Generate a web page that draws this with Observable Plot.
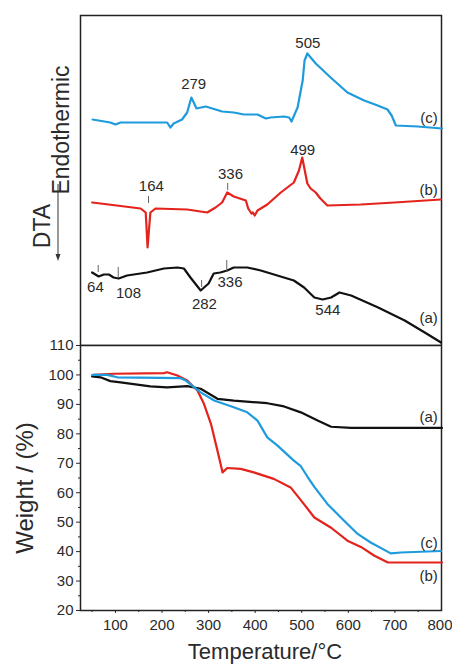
<!DOCTYPE html>
<html><head><meta charset="utf-8">
<script src="https://cdn.jsdelivr.net/npm/d3@7"></script>
<script src="https://cdn.jsdelivr.net/npm/@observablehq/plot@0.6"></script>
<style>
body{margin:0;background:#fff;font-family:"Liberation Sans",Arial,sans-serif;}
#wrap{position:relative;width:452px;height:664px;overflow:hidden;}
#topPanel,#botPanel{position:absolute;left:0;}
#topPanel{top:0}#botPanel{top:335px}
.lab{position:absolute;color:#2a2a2a;white-space:nowrap;line-height:1;}
.rot{transform:translate(-50%,-50%) rotate(-90deg);}
</style></head><body>
<div id="wrap">
  <div id="topPanel"></div>
  <div id="botPanel"></div>
  <div class="lab rot" style="left:42px;top:226px;font-size:23px;">DTA</div>
  <div class="lab rot" style="left:61px;top:130px;font-size:23px;">Endothermic</div>
  <svg style="position:absolute;left:0;top:0" width="90" height="300">
    <line x1="58" y1="184" x2="58" y2="256" stroke="#333" stroke-width="1"/>
    <path d="M55.5,254 L58,261 L60.5,254 Z" fill="#333"/>
  </svg>
  <div class="lab rot" style="left:25px;top:488px;font-size:24px;">Weight / (%)</div>
  <div class="lab" style="left:265px;top:652px;transform:translate(-50%,-50%);font-size:22px;">Temperature/°C</div>
</div>
<script>
// ---- DTA curves (temperature °C, signal a.u.) ----
const dtaA = [[50,73],[64,69],[75,71],[86,71],[96,68],[107,67],[125,70],[168,73],[204,77],[233,78],[247,77],[261,68],[283,55],[300,62],[311,72],[325,73],[340,75],[354,78],[383,78],[412,75],[483,65],[505,58],[527,48],[545,46],[563,48],[581,53],[606,50],[664,38],[721,25],[764,13],[799,3]];
const dtaB = [[50,143],[68,142],[154,137],[165,133],[169,98],[175,133],[186,137],[254,136],[297,133],[315,138],[329,143],[340,153],[354,149],[380,145],[385,137],[392,132],[395,133],[399,130],[405,135],[426,141],[455,153],[483,163],[494,175],[501,188],[512,162],[519,157],[530,153],[540,147],[555,140],[627,141],[699,143],[799,146]];
const dtaC = [[51,226],[89,223],[100,221],[111,223],[211,223],[218,218],[225,222],[243,226],[254,233],[263,248],[274,237],[294,239],[308,237],[329,234],[354,233],[376,231],[405,231],[423,227],[433,228],[462,229],[473,228],[478,224],[491,238],[502,265],[506,285],[512,292],[530,282],[562,268],[598,253],[634,245],[663,240],[684,236],[693,230],[702,220],[749,219],[801,217]];
// ---- TGA curves (temperature °C, weight %) ----
const tgaA = [[50,99.5],[68,99.2],[89,97.9],[111,97.5],[175,96.1],[211,95.8],[254,96.2],[283,95.3],[319,91.9],[354,91.3],[426,90.4],[462,89.3],[498,87.3],[534,84.5],[563,82.4],[606,82],[801,82]];
const tgaB = [[54,100],[96,100.4],[204,100.6],[211,100.9],[233,99.8],[254,98.1],[276,94.7],[290,90.2],[305,83.4],[319,74.3],[330,66.9],[340,68.4],[369,68.1],[397,66.9],[440,64.7],[476,61.8],[498,57.5],[527,51.6],[563,48.1],[598,43.7],[627,41.6],[656,38.6],[685,36.3],[801,36.3]];
const tgaC = [[50,100],[82,100],[104,99.2],[240,98.9],[251,98.1],[283,94.1],[312,91.3],[354,89],[383,87.3],[405,84.5],[426,78.8],[448,76],[483,70.9],[498,69],[512,65.5],[527,62],[555,56.2],[591,50.5],[620,46],[648,43.1],[691,39.4],[713,39.7],[799,40.2]];
// ---- annotations ----
const dtaLabels = [
  {T:268,v:261,text:"279"},{T:513,v:302,text:"505"},
  {T:177,v:159,text:"164"},{T:347,v:171,text:"336"},{T:502,v:195,text:"499"},
  {T:57,v:58,text:"64"},{T:128,v:52,text:"108"},{T:291,v:41,text:"282"},{T:346,v:63,text:"336"},{T:556,v:35,text:"544"}
];
const dtaCurveNames = [{T:792,v:227,text:"(c)"},{T:792,v:155,text:"(b)"},{T:792,v:27,text:"(a)"}];
const peakTicks = [{T:63,v1:73,v2:80},{T:106,v1:68,v2:78},{T:285,v1:58,v2:65},{T:339,v1:74,v2:85},{T:171,v1:142,v2:149},{T:341,v1:155,v2:162}];
const tgaCurveNames = [{T:792,w:85.5,text:"(a)"},{T:792,w:43,text:"(c)"},{T:792,w:31.8,text:"(b)"}];
const xTicks = [100,200,300,400,500,600,700];
const xLastTick = [800];
const xMinor = [50,150,250,350,450,550,650,750];
const yTicks = [20,30,40,50,60,70,80,90,100,110];
const yMinor = [25,35,45,55,65,75,85,95,105];

const BLACK = "#111", RED = "#e3231c", BLUE = "#1e9bdc";
const X = d => d[0], Y = d => d[1];
const font = "Liberation Sans, Arial, sans-serif";

const dtaPlot = Plot.plot({
  width: 452, height: 345,
  marginTop: 15, marginBottom: 0, marginLeft: 80, marginRight: 11,
  style: {fontFamily: font, color: "#2a2a2a", background: "transparent"},
  x: {domain: [25, 800], axis: null},
  y: {domain: [0, 330], axis: null},
  marks: [
    Plot.frame({stroke: "#222", strokeWidth: 1.5}),
    Plot.line(dtaC, {x: X, y: Y, stroke: BLUE, strokeWidth: 2.2}),
    Plot.line(dtaB, {x: X, y: Y, stroke: RED, strokeWidth: 2.2}),
    Plot.line(dtaA, {x: X, y: Y, stroke: BLACK, strokeWidth: 2.2}),
    Plot.ruleX(peakTicks, {x: "T", y1: "v1", y2: "v2", stroke: "#666", strokeWidth: 1}),
    Plot.text(dtaLabels, {x: "T", y: "v", text: "text", fontSize: 15, fill: "#2a2a2a"}),
    Plot.text(dtaCurveNames, {x: "T", y: "v", text: "text", fontSize: 15, textAnchor: "end", fill: "#2a2a2a"})
  ]
});
document.getElementById("topPanel").appendChild(dtaPlot);

const tgaPlot = Plot.plot({
  width: 452, height: 329,
  marginTop: 10, marginBottom: 54, marginLeft: 80, marginRight: 11,
  style: {fontFamily: font, color: "#2a2a2a", background: "transparent"},
  x: {domain: [25, 800]},
  y: {domain: [20, 110]},
  marks: [
    Plot.axisX({ticks: xTicks, tickSize: 3, tickPadding: 6, fontSize: 15, label: null}),
    Plot.axisX({ticks: xLastTick, tickSize: 3, tickPadding: 6, fontSize: 15, label: null, textAnchor: "end", dx: 11}),
    Plot.axisX({ticks: xMinor, tickSize: 2, tickFormat: () => "", label: null}),
    Plot.axisY({ticks: yTicks, tickSize: 4, tickPadding: 3, fontSize: 15, label: null}),
    Plot.axisY({ticks: yMinor, tickSize: 2, tickFormat: () => "", label: null}),
    Plot.frame({stroke: "#222", strokeWidth: 1.5}),
    Plot.line(tgaA, {x: X, y: Y, stroke: BLACK, strokeWidth: 2.2}),
    Plot.line(tgaB, {x: X, y: Y, stroke: RED, strokeWidth: 2.2}),
    Plot.line(tgaC, {x: X, y: Y, stroke: BLUE, strokeWidth: 2.2}),
    Plot.text(tgaCurveNames, {x: "T", y: "w", text: "text", fontSize: 15, textAnchor: "end", fill: "#2a2a2a"})
  ]
});
document.getElementById("botPanel").appendChild(tgaPlot);
</script>
</body></html>
